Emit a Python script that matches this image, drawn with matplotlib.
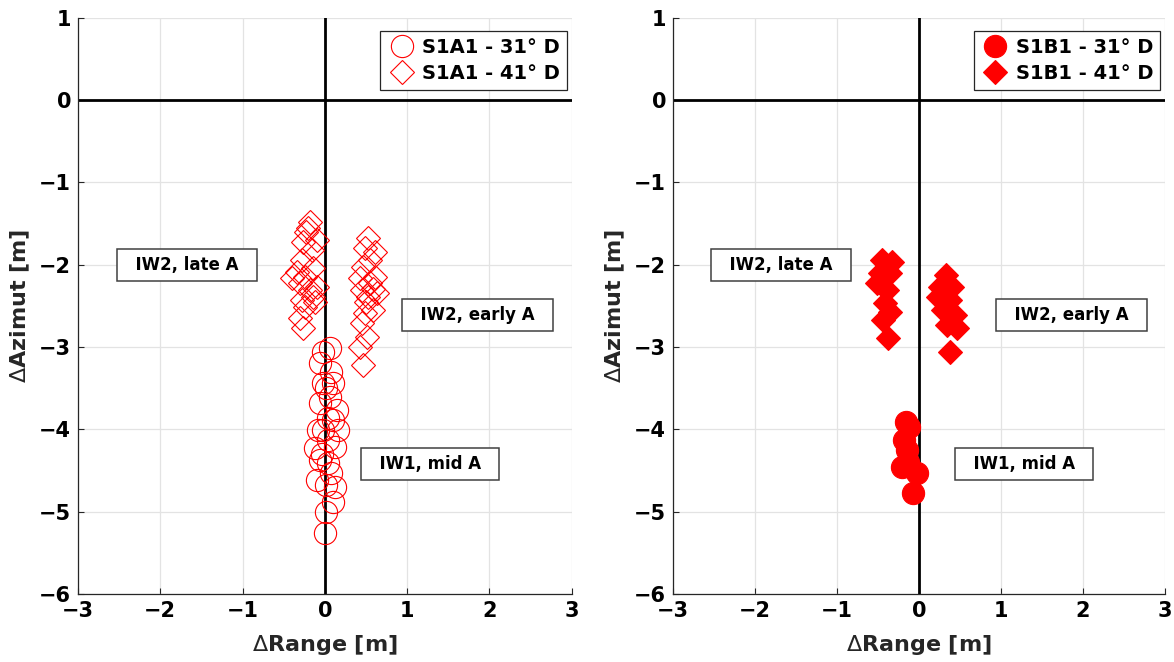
import matplotlib
matplotlib.use("Agg")
import matplotlib.pyplot as plt

# --- S1A1, 31 deg descending (IW1, mid A) ---
a31_rng = [0.06, -0.02, -0.06, 0.10, -0.02, 0.02, -0.06, 0.06, 0.04, 0.10, -0.02, 0.04,
           -0.12, 0.12, 0.04, 0.08, -0.10, 0.02, 0.10, 0.02, 0.00, 0.15, -0.06, -0.08, 0.16,
           0.08, -0.04, 0.12]
a31_az = [-3.01, -3.06, -3.19, -3.44, -3.44, -3.50, -3.68, -3.61, -3.86, -3.89, -4.01, -4.13,
          -4.23, -4.21, -4.41, -4.53, -4.61, -4.68, -4.88, -5.00, -5.26, -3.76, -4.37, -4.01, -4.01,
          -3.30, -4.30, -4.70]

# --- S1A1, 41 deg descending (IW2 late A / IW2 early A) ---
a41_rng = [-0.18, -0.23, -0.10, -0.27, -0.16, -0.28, -0.34, -0.24, -0.15, -0.30, -0.18, -0.28,
           -0.15, -0.24, -0.30, -0.27, -0.40, -0.10, -0.20, -0.12,
           0.52, 0.49, 0.61, 0.46, 0.61, 0.43, 0.52, 0.63, 0.45, 0.49, 0.58, 0.45, 0.51,
           0.43, 0.46, 0.55, 0.55, 0.50, 0.58]
a41_az = [-1.48, -1.60, -1.70, -1.72, -1.82, -1.94, -2.09, -2.15, -2.04, -2.22, -2.31, -2.43,
          -2.39, -2.51, -2.65, -2.77, -2.16, -2.27, -1.55, -2.45,
          -1.67, -1.80, -1.84, -2.03, -2.15, -2.16, -2.39, -2.34, -2.31, -2.59, -2.55, -2.71,
          -2.88, -3.00, -3.22, -1.94, -2.22, -2.45, -2.30]

# --- S1B1, 31 deg descending ---
b31_rng = [-0.16, -0.12, -0.18, -0.15, -0.21, -0.14, -0.03, -0.07]
b31_az = [-3.91, -3.97, -4.13, -4.25, -4.46, -4.40, -4.53, -4.77]

# --- S1B1, 41 deg descending ---
b41_rng = [-0.45, -0.33, -0.48, -0.35, -0.51, -0.39, -0.41, -0.35, -0.44, -0.38,
           0.33, 0.26, 0.40, 0.23, 0.38, 0.29, 0.44, 0.34, 0.46, 0.38]
b41_az = [-1.94, -1.97, -2.10, -2.10, -2.22, -2.31, -2.46, -2.57, -2.67, -2.89,
          -2.12, -2.27, -2.27, -2.39, -2.43, -2.55, -2.61, -2.73, -2.77, -3.06]

labels_a = ["S1A1 - 31° D", "S1A1 - 41° D"]
labels_b = ["S1B1 - 31° D", "S1B1 - 41° D"]

box_texts = ["IW2, late A", "IW2, early A", "IW1, mid A"]
box_x = [-1.68, 1.86, 1.28]
box_y = [-2.0, -2.61, -4.42]

xticks = [-3, -2, -1, 0, 1, 2, 3]
yticks = [-6, -5, -4, -3, -2, -1, 0, 1]

plt.rcParams["font.family"] = ["DejaVu Sans"]
plt.rcParams["axes.unicode_minus"] = True
plt.rcParams["mathtext.fontset"] = "dejavusans"

fig = plt.figure(figsize=(11.74, 6.62), dpi=100)
ax1 = fig.add_axes([0.0664, 0.1027, 0.4206, 0.8703])
ax2 = fig.add_axes([0.5733, 0.1027, 0.4191, 0.8703])

DARK = "#262626"


def style_axes(ax):
    ax.set_xlim(-3, 3)
    ax.set_ylim(-6, 1)
    ax.set_xticks(xticks)
    ax.set_yticks(yticks)
    ax.grid(True, color="#e3e3e3", lw=0.9, zorder=0)
    ax.set_axisbelow(True)
    for s in ("top", "right"):
        ax.spines[s].set_visible(False)
    for s in ("left", "bottom"):
        ax.spines[s].set_color(DARK)
        ax.spines[s].set_linewidth(0.9)
    ax.tick_params(direction="in", length=4, width=0.8, color=DARK,
                   labelsize=15, pad=5)
    for lab in ax.get_xticklabels() + ax.get_yticklabels():
        lab.set_fontweight("bold")
    ax.axhline(0, color="black", lw=2.0, zorder=1)
    ax.axvline(0, color="black", lw=2.0, zorder=1)
    ax.set_xlabel(r"$\Delta$Range [m]", fontsize=16, fontweight="bold", color=DARK, labelpad=9)
    ax.set_ylabel(r"$\Delta$Azimut [m]", fontsize=16, fontweight="bold", color=DARK, labelpad=5)
    for t, x, y in zip(box_texts, box_x, box_y):
        ax.text(x, y, "  " + t + "  ", ha="center", va="center", fontsize=12,
                fontweight="bold", zorder=5,
                bbox=dict(boxstyle="square,pad=0.42", fc="white", ec="#404040", lw=1.1))


style_axes(ax1)
style_axes(ax2)

ax1.plot(a31_rng, a31_az, "o", ms=16, mfc="none", mec="red", mew=0.8,
         ls="none", label=labels_a[0], zorder=3)
ax1.plot(a41_rng, a41_az, "D", ms=12.5, mfc="none", mec="red", mew=0.8,
         ls="none", label=labels_a[1], zorder=3)

ax2.plot(b31_rng, b31_az, "o", ms=16, mfc="red", mec="red", mew=0.8,
         ls="none", label=labels_b[0], zorder=3)
ax2.plot(b41_rng, b41_az, "D", ms=12.5, mfc="red", mec="red", mew=0.8,
         ls="none", label=labels_b[1], zorder=3)

for ax in (ax1, ax2):
    leg = ax.legend(loc="upper right", bbox_to_anchor=(0.99, 0.977),
                    prop={"weight": "bold", "size": 14},
                    fancybox=False, framealpha=1, edgecolor=DARK,
                    borderpad=0.35, handletextpad=0.3, handlelength=1.5,
                    labelspacing=0.35, borderaxespad=0.0)
    leg.get_frame().set_linewidth(0.9)
    leg.set_zorder(6)

fig.savefig("out.png", dpi=100)
